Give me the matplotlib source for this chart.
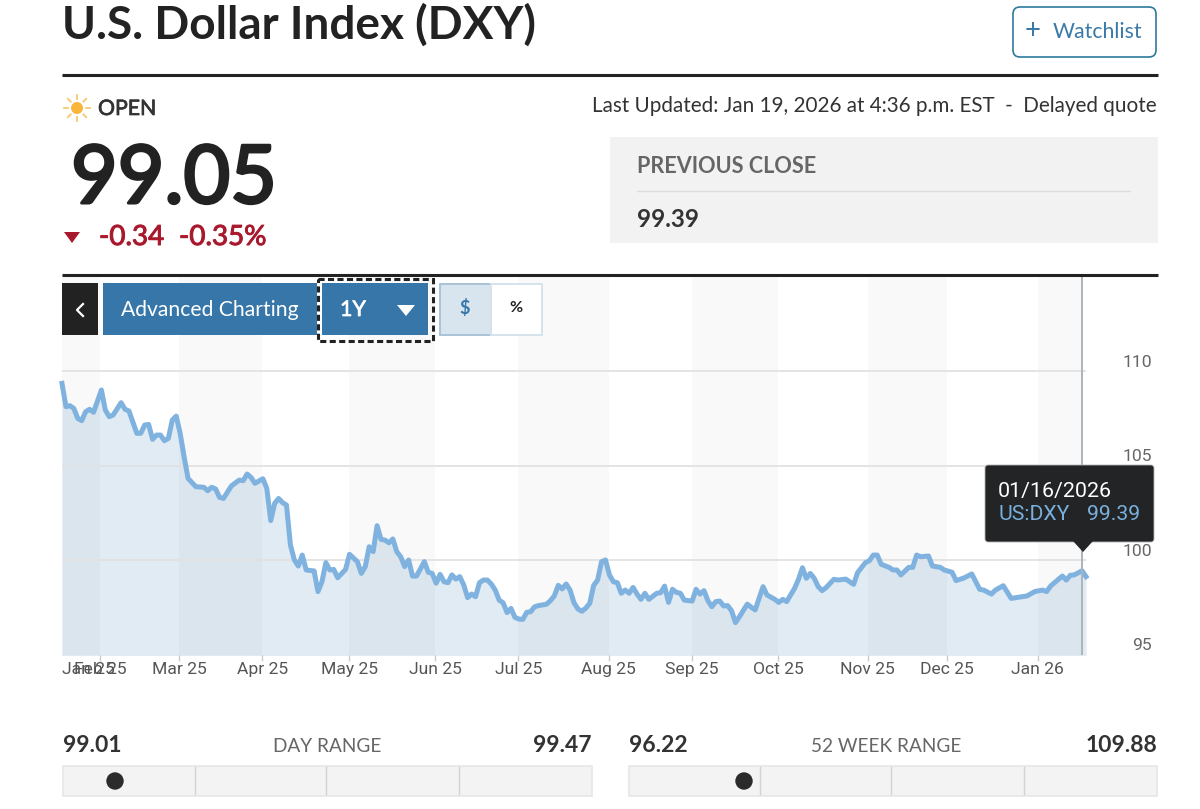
import matplotlib
matplotlib.use('Agg')
import matplotlib.pyplot as plt
import matplotlib.patheffects as pe
from matplotlib.patches import Rectangle, FancyBboxPatch, Polygon, Circle
from matplotlib.transforms import ScaledTranslation
import numpy as np

# trading day number (0 = first day in the 1Y window) and index close
day = [0, 1, 2, 3, 4, 5, 6, 7, 8, 10, 11, 12, 13, 15, 16, 17, 19, 20, 21, 22, 23, 24, 25, 26, 27, 28, 29, 30,
       31, 32, 34, 36, 37, 38, 39, 40, 41, 43, 45, 46, 47, 48, 49, 51, 52, 53, 54, 55, 56, 57, 58, 59, 60, 61,
       62, 64, 65, 66, 67, 68, 69, 70, 72, 73, 75, 76, 77, 78, 79, 80, 81, 82, 83, 84, 85, 86, 87, 88, 89, 90,
       92, 93, 94, 95, 96, 97, 98, 99, 100, 101, 102, 103, 104, 105, 106, 107, 108, 109, 110, 111, 112, 113,
       114, 115, 116, 117, 118, 119, 120, 121, 123, 124, 125, 126, 127, 128, 129, 130, 131, 132, 133, 134, 135,
       136, 137, 138, 139, 140, 141, 142, 143, 144, 145, 146, 147, 148, 149, 151, 152, 153, 154, 155, 156, 157,
       158, 160, 161, 162, 163, 164, 165, 166, 167, 168, 169, 170, 171, 172, 174, 175, 176, 178, 179, 181, 182,
       183, 184, 186, 187, 188, 189, 190, 191, 192, 193, 194, 196, 197, 199, 201, 202, 204, 205, 206, 207, 208,
       210, 211, 212, 213, 215, 216, 217, 218, 220, 221, 223, 224, 226, 227, 229, 231, 233, 234, 236, 237, 239,
       241, 245, 247, 249, 250, 251, 252, 254, 255, 256, 257, 259, 260]
close = [109.35, 108.12, 108.17, 108.03, 107.5, 107.38, 107.85, 107.98, 107.82, 109.0, 107.94, 107.59, 107.68,
         108.33, 107.98, 107.89, 106.71, 106.71, 107.15, 107.18, 106.39, 106.62, 106.62, 106.32, 106.44, 107.41,
         107.62, 106.71, 105.48, 104.33, 103.89, 103.86, 103.68, 103.86, 103.77, 103.33, 103.27, 103.93, 104.24,
         104.21, 104.56, 104.38, 104.07, 104.31, 103.8, 102.1, 103.01, 103.27, 103.05, 102.92, 100.81, 100.02,
         99.7, 100.28, 99.49, 99.44, 98.35, 98.87, 99.88, 99.49, 99.52, 99.08, 99.52, 100.32, 99.93, 99.31, 99.67,
         100.72, 100.46, 101.83, 101.11, 101.07, 100.93, 101.13, 100.46, 100.19, 99.67, 100.02, 99.17, 99.17,
         99.93, 99.37, 99.31, 98.79, 99.26, 98.87, 98.82, 99.23, 99.01, 99.14, 98.7, 98.03, 98.22, 98.08, 98.82,
         98.96, 98.96, 98.75, 98.43, 97.9, 97.76, 97.24, 97.46, 96.99, 96.9, 96.88, 97.25, 97.29, 97.55, 97.61,
         97.68, 97.87, 98.12, 98.68, 98.49, 98.75, 98.43, 97.76, 97.43, 97.31, 97.48, 97.73, 98.68, 98.96, 99.93,
         100.02, 99.23, 98.87, 98.82, 98.26, 98.43, 98.26, 98.57, 98.22, 97.94, 98.26, 97.94, 98.26, 98.29, 98.64,
         97.78, 98.47, 98.31, 98.26, 97.9, 97.85, 98.47, 98.22, 98.4, 97.87, 97.55, 97.82, 97.85, 97.59, 97.61,
         97.34, 96.71, 97.02, 97.69, 97.52, 97.38, 98.61, 98.17, 97.94, 97.78, 97.94, 97.82, 98.52, 99.0, 99.61,
         99.05, 99.31, 99.05, 98.61, 98.4, 98.56, 99.0, 98.96, 99.01, 98.73, 99.35, 99.88, 99.98, 100.28, 100.28,
         99.79, 99.63, 99.49, 99.49, 99.23, 99.63, 99.63, 100.28, 100.19, 100.23, 99.7, 99.63, 99.49, 99.37, 98.93,
         99.07, 99.28, 98.47, 98.43, 98.22, 98.43, 98.66, 97.99, 98.12, 98.35, 98.43, 98.35, 98.64, 98.82, 99.17,
         98.96, 99.21, 99.23, 99.45, 99.14]

month_pos = [9.65, 29.8, 50.8, 72.9, 94.8, 115.9, 138.8, 159.9, 181.8, 204.6, 224.8, 247.7]
month_labels = ['Feb 25', 'Mar 25', 'Apr 25', 'May 25', 'Jun 25', 'Jul 25', 'Aug 25', 'Sep 25', 'Oct 25',
                'Nov 25', 'Dec 25', 'Jan 26']
y_ticks = [95, 100, 105, 110]

W, H = 1200, 809
LATO = 'Lato'
ROBOTO = 'Roboto'
DARK = '#222222'
BLUE = '#3776a8'
RED = '#a8192e'
GRAY = '#666666'

fig = plt.figure(figsize=(W / 100, H / 100), dpi=100, facecolor='white')


def px_axes(x0, y0, x1, y1):
    return fig.add_axes([x0 / W, 1 - y1 / H, (x1 - x0) / W, (y1 - y0) / H])


# chart
ax = px_axes(62, 275, 1086, 655)
ax.set_xlim(0, 260)
ax.set_ylim(95, 95 + 380 / 18.93)
for s in ax.spines.values():
    s.set_visible(False)

ax.fill_between(day, close, 90, color='#e0ebf3', lw=0, zorder=1)

# every second month gets a faint band
edges = [0] + month_pos + [259]
for a, b in zip(edges[0::2], edges[1::2]):
    ax.axvspan(a, b, color='black', alpha=0.024, lw=0, zorder=2)

for v in y_ticks[1:]:
    ax.axhline(v, color='#e2e2e2', lw=1.3, zorder=3)
ax.plot(day, close, color='#80b2e0', lw=3.6, solid_joinstyle='round', zorder=4, clip_on=False)
ax.axvline(259, color='#aab4bb', lw=1.4, zorder=5)

ax.set_xticks([0] + month_pos)
ax.set_xticklabels(['Jan 25'] + month_labels, fontfamily=ROBOTO, fontsize=12.6, color='#555555')
ax.get_xticklabels()[0].set_ha('left')
ax.tick_params(axis='x', length=4, width=1, color='#cccccc', pad=1)
ax.xaxis.get_major_ticks()[0].tick1line.set_visible(False)

ax.yaxis.tick_right()
ax.set_yticks(y_ticks)
ax.set_yticklabels([str(v) for v in y_ticks], fontfamily=ROBOTO, fontsize=12.6, color='#666666', ha='right', va='bottom')
ax.tick_params(axis='y', length=0, pad=47.5)
for lab in ax.get_yticklabels():
    lab.set_transform(lab.get_transform() + ScaledTranslation(0, 1.5 / 100, fig.dpi_scale_trans))

# page around the chart, in pixel coordinates
page = px_axes(0, 0, W, H)
page.set_xlim(0, W)
page.set_ylim(H, 0)
page.axis('off')
page.patch.set_alpha(0)


def txt(x, y, s, size, color=DARK, weight='normal', ha='left', family=LATO, thicken=0):
    t = page.text(x, y, s, fontsize=size, color=color, fontweight=weight, ha=ha, va='center', family=family)
    # Lato medium is not installed, so fatten the regular cut a little
    if thicken:
        t.set_path_effects([pe.withStroke(linewidth=thicken, foreground=color)])


def box(x0, y0, x1, y1, fc, ec='none', lw=0, **kw):
    page.add_patch(Rectangle((x0, y0), x1 - x0, y1 - y0, fc=fc, ec=ec, lw=lw, **kw))


txt(62, 25, 'U.S. Dollar Index (DXY)', 33.1, weight='bold')
page.add_patch(FancyBboxPatch((1013, 7), 143, 50, boxstyle='round,pad=0,rounding_size=7', fc='white', ec='#2b7a9e', lw=1.2))
txt(1025, 31, '+', 20, color='#3a7aa8')
txt(1053, 32, 'Watchlist', 15.3, color='#3a7aa8')
page.plot([62, 1158], [74.5, 74.5], color=DARK, lw=2.2, solid_capstyle='butt')

# sun icon
page.add_patch(Circle((77, 108), 6, fc='#f8b73c', ec='none'))
for ang in np.arange(0, 360, 45):
    c, s = np.cos(np.radians(ang)), np.sin(np.radians(ang))
    page.plot([77 + 9 * c, 77 + 13 * c], [108 + 9 * s, 108 + 13 * s], color='#f8c870', lw=1.3)
txt(98, 109, 'OPEN', 15.3, color='#333333', thicken=0.5)
txt(1157, 106, 'Last Updated: Jan 19, 2026 at 4:36 p.m. EST  -  Delayed quote', 14.9, color='#333333', ha='right')

txt(71, 180, '99.05', 58, thicken=2.2)
page.add_patch(Polygon([(64, 232), (80, 232), (72, 243)], fc=RED, ec='none'))
txt(99, 237, '-0.34', 20, color=RED, thicken=0.7)
txt(179, 237, '-0.35%', 20, color=RED, thicken=0.7)

box(610, 137, 1158, 243, '#f2f2f2')
txt(637, 166, 'PREVIOUS CLOSE', 15.6, color=GRAY, weight='bold')
page.plot([637, 1130], [191, 191], color='#dddddd', lw=1)
txt(637, 219, '99.39', 17.5, color='#333333', weight='bold')
page.plot([62, 1158], [275, 275], color=DARK, lw=2.2, solid_capstyle='butt')

# chart toolbar
box(62, 283, 98, 335, DARK)
page.plot([83, 77, 83], [304, 310, 316], color='white', lw=1.6)
box(103, 283, 317, 335, BLUE)
txt(121, 310, 'Advanced Charting', 15.2, color='white')
box(322, 283, 428, 335, BLUE)
box(317.5, 278.5, 432.5, 340.5, 'none', ec=DARK, lw=2.2, ls=(0, (2, 1.1)))
txt(340, 310, '1Y', 15.5, color='white', thicken=0.5)
page.add_patch(Polygon([(397, 305), (415, 305), (406, 316)], fc='white', ec='none'))
box(439.5, 283.5, 490.5, 334.5, '#d8e4ee', ec='#a9c3d6', lw=1.4)
box(490.5, 283.5, 541.5, 334.5, 'white', ec='#d5e3ec', lw=1.4)
txt(465, 308, '$', 13, color=BLUE, weight='bold', ha='center')
txt(516, 308, '%', 11.5, color=DARK, weight='bold', ha='center')

# tooltip on the last point
page.add_patch(FancyBboxPatch((985, 465), 169, 77, boxstyle='round,pad=0,rounding_size=3', fc='#222426', ec='#b5b5b5', lw=0.6))
page.add_patch(Polygon([(1073, 541), (1093, 541), (1083, 552)], fc='#222426', ec='none'))
txt(998, 491, '01/16/2026', 15.4, color='white', family=ROBOTO)
txt(998, 515, 'US:DXY', 15.2, color='#7ab0dd', family=ROBOTO)
txt(1140, 515, '99.39', 15.2, color='#7ab0dd', ha='right', family=ROBOTO)


def range_bar(x0, x1, low, high, label, label_x, dividers, dot):
    txt(x0 + 1, 746, low, 16.5, color='#333333', weight='bold')
    txt(x1, 746, high, 16.5, color='#333333', weight='bold', ha='right')
    txt(label_x, 746, label, 13.7, color=GRAY, ha='center')
    box(x0 + 0.5, 765.5, x1 - 0.5, 795.5, '#f3f3f3', ec='#e6e6e6', lw=1.2)
    for d in dividers:
        page.plot([d, d], [767, 794], color='#d2d2d2', lw=1)
    page.add_patch(Circle((dot, 781), 8.7, fc='#2b2b2b', ec='none'))


range_bar(62, 592, '99.01', '99.47', 'DAY RANGE', 327, [195, 326, 459], 115)
range_bar(628, 1157, '96.22', '109.88', '52 WEEK RANGE', 886, [760, 891, 1024], 744)

fig.savefig('out.png', dpi=100)
